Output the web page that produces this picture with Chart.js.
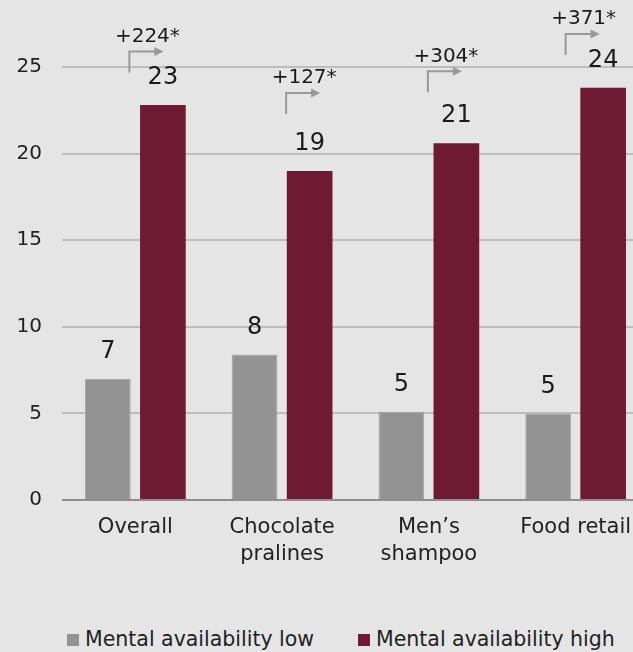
<!DOCTYPE html>
<html>
<head>
<meta charset="utf-8">
<script src="https://cdn.jsdelivr.net/npm/chart.js@4"></script>
<style>
  html, body { margin: 0; padding: 0; background: #e5e5e5; overflow: hidden; width: 633px; height: 652px; }
  #wrap { position: absolute; left: 0; top: 0; width: 649px; height: 600px; }
  .item { position: absolute; top: 627px; font: 20.5px "DejaVu Sans", sans-serif; color: #222; white-space: nowrap; }
  .box { display: inline-block; width: 12px; height: 12px; margin-right: 6px; vertical-align: 0px; }
</style>
</head>
<body>
<div id="wrap"><canvas id="chart" width="649" height="600"></canvas></div>
<div class="item" style="left:67px"><span class="box" style="background:#939393"></span><span id="name0"></span></div>
<div class="item" style="left:358px"><span class="box" style="background:#6e1a33"></span><span id="name1"></span></div>
<script>
document.addEventListener("DOMContentLoaded", function () {

  // ---- data ----
  const categories = [["Overall"], ["Chocolate", "pralines"], ["Men\u2019s", "shampoo"], ["Food retail"]];
  const seriesNames = ["Mental availability low", "Mental availability high"];
  const lowValues = [7.0, 8.4, 5.1, 5.0];
  const highValues = [22.8, 19.0, 20.6, 23.8];
  const lowLabels = ["7", "8", "5", "5"];
  const highLabels = ["23", "19", "21", "24"];
  const liftLabels = ["+224*", "+127*", "+304*", "+371*"];
  const arrowLevels = [25.9, 23.5, 24.75, 26.9]; // value where each arrow turns right
  const yTicks = [0, 5, 10, 15, 20, 25];

  const FONT = '"DejaVu Sans", sans-serif';
  const arrowShift = [-6, 4, -1, -10];

  document.getElementById("name0").textContent = seriesNames[0];
  document.getElementById("name1").textContent = seriesNames[1];

  /* labels over bars + uplift arrows */
  const annotate = {
    id: "annotate",
    afterDatasetsDraw(chart) {
      const ctx = chart.ctx;
      const xs = chart.scales.x, ys = chart.scales.y;
      ctx.save();
      ctx.fillStyle = "#1a1a1a";
      ctx.textAlign = "center";
      ctx.textBaseline = "middle";
      ctx.font = "24px " + FONT;
      chart.getDatasetMeta(0).data.forEach((bar, i) => ctx.fillText(lowLabels[i], bar.x, bar.y - 27));
      chart.getDatasetMeta(1).data.forEach((bar, i) => ctx.fillText(highLabels[i], bar.x, bar.y - 27));

      ctx.font = "20px " + FONT;
      categories.forEach((c, i) => {
        const x0 = xs.getPixelForValue(i) + arrowShift[i];
        const x1 = x0 + 34;
        const yl = ys.getPixelForValue(arrowLevels[i]);
        ctx.strokeStyle = "#999";
        ctx.fillStyle = "#999";
        ctx.lineWidth = 2;
        ctx.beginPath();
        ctx.moveTo(x0, yl + 21);
        ctx.lineTo(x0, yl);
        ctx.lineTo(x1 - 7, yl);
        ctx.stroke();
        ctx.beginPath();
        ctx.moveTo(x1, yl);
        ctx.lineTo(x1 - 9, yl - 4.5);
        ctx.lineTo(x1 - 9, yl + 4.5);
        ctx.closePath();
        ctx.fill();
        ctx.fillStyle = "#1a1a1a";
        ctx.fillText(liftLabels[i], (x0 + x1) / 2 + 1, yl - 15);
      });
      ctx.restore();
    }
  };

  new Chart(document.getElementById("chart"), {
    type: "bar",
    data: {
      labels: categories,
      datasets: [
        {
          label: seriesNames[0],
          data: lowValues,
          backgroundColor: "#939393",
          borderColor: "#a4a4a4",
          borderWidth: 1
        },
        {
          label: seriesNames[1],
          data: highValues,
          backgroundColor: "#6e1a33",
          borderWidth: 0
        }
      ]
    },
    options: {
      responsive: false,
      animation: false,
      categoryPercentage: 0.75,
      barPercentage: 0.83,
      layout: { padding: { top: 67, left: 0, right: 0, bottom: 0 } },
      plugins: {
        legend: { display: false },
        tooltip: { enabled: false }
      },
      scales: {
        x: {
          grid: { display: false, drawTicks: false },
          border: { display: false },
          ticks: { color: "#222", font: { family: FONT, size: 21, lineHeight: 1.24 }, padding: 15 },
          afterFit: s => { s.height = 100; }
        },
        y: {
          min: 0,
          max: 25,
          afterBuildTicks: s => { s.ticks = yTicks.map(v => ({ value: v })); },
          grid: {
            drawTicks: false,
            lineWidth: 2,
            color: c => (c.tick && c.tick.value === 0 ? "#8e8e8e" : "#bdbdbd")
          },
          border: { display: false },
          ticks: { color: "#222", font: { family: FONT, size: 20 }, padding: 20 },
          afterFit: s => { s.width = 62; }
        }
      }
    },
    plugins: [annotate]
  });

});
</script>
</body>
</html>
